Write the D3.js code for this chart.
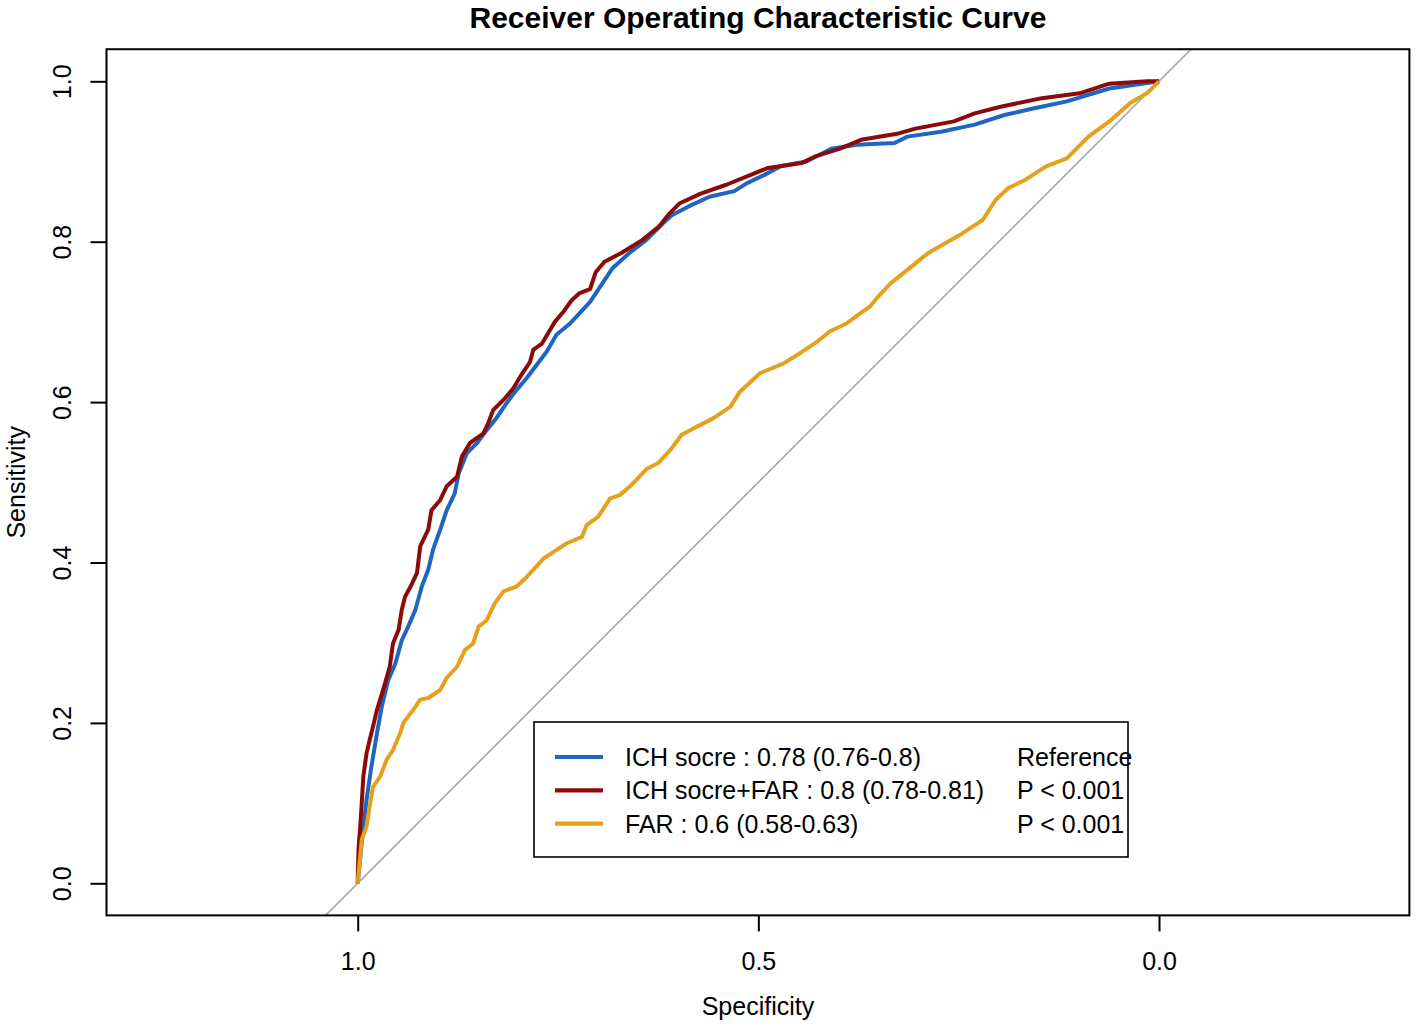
<!DOCTYPE html>
<html>
<head>
<meta charset="utf-8">
<script src="https://cdn.jsdelivr.net/npm/d3@7"></script>
<style>
    * { margin: 0; padding: 0; }
    body { background: #fff; }
    svg { display: block; font-family: "Liberation Sans", Arial, Helvetica, sans-serif; }
</style>
</head>
<body>
<svg id="chart" width="1417" height="1027"></svg>
<script>
// [specificity, sensitivity] pairs
const ichScore = [
    [1.0, 0.0], [0.995, 0.05], [0.989, 0.104], [0.983, 0.145], [0.976, 0.187], [0.97, 0.22],
    [0.962, 0.253], [0.953, 0.274], [0.945, 0.303], [0.937, 0.32], [0.928, 0.341], [0.92, 0.37],
    [0.912, 0.391], [0.906, 0.416], [0.897, 0.441], [0.889, 0.465], [0.879, 0.486], [0.874, 0.511],
    [0.864, 0.536], [0.851, 0.549], [0.839, 0.565], [0.827, 0.58], [0.814, 0.599], [0.802, 0.615],
    [0.789, 0.63], [0.777, 0.646], [0.764, 0.663], [0.752, 0.684], [0.735, 0.698], [0.723, 0.711],
    [0.71, 0.725], [0.7, 0.74], [0.682, 0.767], [0.661, 0.786], [0.64, 0.802], [0.619, 0.823],
    [0.608, 0.833], [0.587, 0.844], [0.561, 0.856], [0.53, 0.863], [0.514, 0.873], [0.493, 0.883],
    [0.472, 0.894], [0.44, 0.9], [0.409, 0.916], [0.377, 0.921], [0.33, 0.923], [0.314, 0.931],
    [0.272, 0.937], [0.23, 0.946], [0.193, 0.958], [0.157, 0.966], [0.115, 0.975], [0.062, 0.991],
    [0.015, 0.998], [0.0, 1.0]
];

const ichScoreFar = [
    [1.0, 0.0], [0.999, 0.042], [0.996, 0.083], [0.993, 0.133], [0.989, 0.162], [0.985, 0.179],
    [0.981, 0.195], [0.976, 0.216], [0.972, 0.229], [0.966, 0.249], [0.96, 0.27], [0.956, 0.299],
    [0.949, 0.316], [0.945, 0.341], [0.941, 0.357], [0.933, 0.372], [0.926, 0.387], [0.922, 0.42],
    [0.912, 0.441], [0.908, 0.465], [0.897, 0.478], [0.889, 0.495], [0.876, 0.507], [0.87, 0.532],
    [0.86, 0.549], [0.843, 0.561], [0.837, 0.574], [0.831, 0.59], [0.816, 0.605], [0.806, 0.617],
    [0.797, 0.632], [0.785, 0.65], [0.781, 0.665], [0.77, 0.673], [0.76, 0.69], [0.754, 0.7],
    [0.743, 0.713], [0.733, 0.727], [0.723, 0.736], [0.71, 0.741], [0.703, 0.762], [0.692, 0.775],
    [0.671, 0.786], [0.645, 0.802], [0.624, 0.819], [0.611, 0.835], [0.598, 0.848], [0.572, 0.86],
    [0.54, 0.871], [0.488, 0.892], [0.446, 0.898], [0.43, 0.906], [0.398, 0.916], [0.372, 0.927],
    [0.325, 0.935], [0.304, 0.941], [0.256, 0.95], [0.23, 0.96], [0.199, 0.968], [0.146, 0.979],
    [0.099, 0.985], [0.062, 0.997], [0.015, 1.0], [0.0, 1.0]
];

const far = [
    [1.0, 0.0], [0.995, 0.054], [0.989, 0.071], [0.985, 0.096], [0.981, 0.12], [0.972, 0.133],
    [0.964, 0.154], [0.956, 0.166], [0.947, 0.187], [0.943, 0.2], [0.928, 0.22], [0.922, 0.229],
    [0.912, 0.231], [0.897, 0.241], [0.889, 0.256], [0.876, 0.27], [0.866, 0.291], [0.856, 0.299],
    [0.849, 0.32], [0.839, 0.328], [0.829, 0.349], [0.818, 0.364], [0.802, 0.37], [0.789, 0.382],
    [0.768, 0.405], [0.756, 0.413], [0.739, 0.424], [0.72, 0.432], [0.714, 0.447], [0.7, 0.457],
    [0.685, 0.48], [0.673, 0.484], [0.66, 0.495], [0.639, 0.517], [0.625, 0.524], [0.61, 0.54],
    [0.596, 0.559], [0.581, 0.567], [0.556, 0.58], [0.535, 0.594], [0.523, 0.613], [0.498, 0.636],
    [0.469, 0.648], [0.448, 0.661], [0.427, 0.675], [0.411, 0.688], [0.39, 0.698], [0.375, 0.709],
    [0.361, 0.719], [0.351, 0.731], [0.335, 0.748], [0.304, 0.773], [0.288, 0.786], [0.246, 0.81],
    [0.22, 0.827], [0.204, 0.852], [0.188, 0.867], [0.167, 0.877], [0.141, 0.894], [0.115, 0.904],
    [0.088, 0.931], [0.062, 0.95], [0.036, 0.973], [0.015, 0.985], [0.0, 1.0]
];

const seriesNames = ['ICH socre : 0.78 (0.76-0.8)', 'ICH socre+FAR : 0.8 (0.78-0.81)', 'FAR : 0.6 (0.58-0.63)'];
const seriesNotes = ['Reference', 'P < 0.001', 'P < 0.001'];
const seriesColors = ['#1f66c2', '#8b0a0a', '#e5a11c'];
const xTicks = [1.0, 0.5, 0.0];
const yTicks = [0.0, 0.2, 0.4, 0.6, 0.8, 1.0];

const svg = d3.select('#chart');

// axis limits (R pads each range by 4%)
const xLim = [1.3135, -0.3125];
const yLim = [-0.04, 1.04];

const x = d3.scaleLinear().domain([1, 0]).range([357.7, 1159]);
const y = d3.scaleLinear().domain([0, 1]).range([883.3, 81.3]);

const boxLeft = x(xLim[0]), boxRight = x(xLim[1]);
const boxTop = y(yLim[1]), boxBottom = y(yLim[0]);
const midX = (boxLeft + boxRight) / 2;

svg.append('defs').append('clipPath').attr('id', 'plot-clip')
    .append('rect').attr('x', boxLeft).attr('y', boxTop)
    .attr('width', boxRight - boxLeft).attr('height', boxBottom - boxTop);

const plot = svg.append('g').attr('clip-path', 'url(#plot-clip)');

// chance diagonal
plot.append('line')
    .attr('x1', x(1 - yLim[0])).attr('y1', y(yLim[0]))
    .attr('x2', x(1 - yLim[1])).attr('y2', y(yLim[1]))
    .attr('stroke', '#a8a8a8')
    .attr('stroke-width', 1.6);

const line = d3.line().x(d => x(d[0])).y(d => y(d[1]));

[ichScore, ichScoreFar, far].forEach((data, i) => {
    plot.append('path')
        .datum(data)
        .attr('d', line)
        .attr('fill', 'none')
        .attr('stroke', seriesColors[i])
        .attr('stroke-width', 4)
        .attr('stroke-linejoin', 'round');
});

// box
svg.append('rect')
    .attr('x', boxLeft).attr('y', boxTop)
    .attr('width', boxRight - boxLeft).attr('height', boxBottom - boxTop)
    .attr('fill', 'none').attr('stroke', '#000').attr('stroke-width', 2);

// x axis
const xAxis = d3.axisBottom(x).tickValues(xTicks).tickSize(16).tickFormat(d3.format('.1f'));
const gx = svg.append('g').attr('transform', `translate(0,${boxBottom})`).call(xAxis);
gx.select('.domain').remove();
gx.selectAll('.tick line').attr('stroke', '#000').attr('stroke-width', 2);
gx.selectAll('.tick text')
    .attr('fill', '#000').attr('font-size', 25)
    .attr('dy', null)
    .attr('y', 970 - boxBottom);

// y axis
const yAxis = d3.axisLeft(y).tickValues(yTicks).tickSize(16).tickFormat(d3.format('.1f'));
const gy = svg.append('g').attr('transform', `translate(${boxLeft},0)`).call(yAxis);
gy.select('.domain').remove();
gy.selectAll('.tick line').attr('stroke', '#000').attr('stroke-width', 2);
gy.selectAll('.tick text')
    .attr('fill', '#000').attr('font-size', 25)
    .attr('x', null).attr('dy', null)
    .attr('text-anchor', 'middle')
    .attr('transform', `translate(${71 - boxLeft},0) rotate(-90)`);

// titles
svg.append('text')
    .attr('x', midX).attr('y', 28)
    .attr('text-anchor', 'middle')
    .attr('font-size', 30).attr('font-weight', 'bold')
    .text('Receiver Operating Characteristic Curve');

svg.append('text')
    .attr('x', midX).attr('y', 1015)
    .attr('text-anchor', 'middle')
    .attr('font-size', 25)
    .text('Specificity');

svg.append('text')
    .attr('transform', `translate(25,${(boxTop + boxBottom) / 2}) rotate(-90)`)
    .attr('text-anchor', 'middle')
    .attr('font-size', 25)
    .text('Sensitivity');

// legend
const legend = svg.append('g');
legend.append('rect')
    .attr('x', 534).attr('y', 722).attr('width', 594).attr('height', 135)
    .attr('fill', '#fff').attr('stroke', '#000').attr('stroke-width', 1.6);

seriesNames.forEach((name, i) => {
    const ry = 757 + i * 33.3;
    legend.append('line')
        .attr('x1', 555).attr('x2', 603).attr('y1', ry).attr('y2', ry)
        .attr('stroke', seriesColors[i]).attr('stroke-width', 4.2);
    legend.append('text')
        .attr('x', 625).attr('y', ry + 9)
        .attr('font-size', 25)
        .text(name);
    legend.append('text')
        .attr('x', 1017).attr('y', ry + 9)
        .attr('font-size', 25)
        .text(seriesNotes[i]);
});
</script>
</body>
</html>
